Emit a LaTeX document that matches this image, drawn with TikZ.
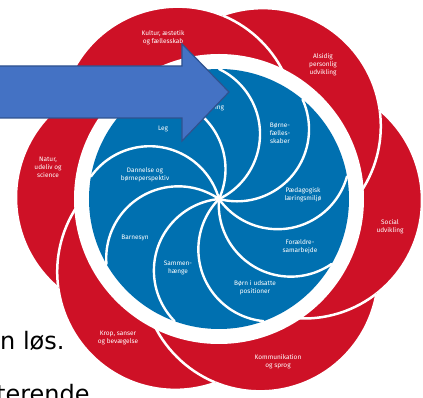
\documentclass[tikz,border=0pt]{standalone}
\usepackage{fontspec}
\setmainfont{DejaVu Sans}
\newfontfamily\tagfont{Fira Sans}
\definecolor{petal_red}{RGB}{206,17,38}
\definecolor{core_blue}{RGB}{0,112,176}
\definecolor{arrow_blue}{RGB}{68,114,196}
\definecolor{arrow_edge}{RGB}{47,82,143}
\tikzset{
	petal/.style={fill=petal_red,draw=white,line width=2.5pt},
	swirl/.style={draw=white,line width=2.4pt},
	tag/.style={text=white,align=center,inner sep=0pt,font=\tagfont\fontsize{6.5}{8}\selectfont},
	slidetext/.style={anchor=base west,inner sep=0pt,font=\fontsize{24}{24}\selectfont}
}

\begin{document}
\begin{tikzpicture}[x=1pt,y=1pt,line join=round,line cap=round]
		\useasboundingbox (-219,-199) rectangle (204,199);
		\begin{scope}
		\clip (-219,-199) rectangle (204,199);
		% red petals
		\foreach\a in {-1,59,...,299}
			\fill[petal_red] (\a:85) circle[radius=118];
		\foreach\a in {-1,59,...,299}
		{
			\begin{scope}
				\clip (0,0) -- (\a-30:400) -- (\a+30:400) -- cycle;
				\foreach\i in {-60,0,60}
					\filldraw[petal] (\a+\i:85) circle[radius=118];
			\end{scope}
		}
		% blue core
		\fill[white] (0,0) circle[radius=145];
		\fill[core_blue] (0,0) circle[radius=130];
		\foreach\b in {90,130,...,410}
			\draw[swirl] (0,0) arc[start angle=\b-154.5, end angle=\b-25.5, radius=72];
		\node[tag] (laering)   at (-5,91)    {Læring};
		\node[tag] (leg)       at (-56,70)   {Leg};
		\node[tag] (dannelse)  at (-74,24)   {Dannelse og\\børneperspektiv};
		\node[tag] (barnesyn)  at (-84,-39)  {Barnesyn};
		\node[tag] (sammen)    at (-41,-69)  {Sammen-\\hænge};
		\node[tag] (udsatte)   at (36,-89)   {Børn i udsatte\\positioner};
		\node[tag] (foraeldre) at (81,-48)   {Forældre-\\samarbejde};
		\node[tag] (miljoe)    at (84,4)     {Pædagogisk\\læringsmiljø};
		\node[tag] (faelles)   at (61,66)    {Børne-\\fælles-\\skaber};
		\node[tag] (kultur)    at (-56,161)  {Kultur, æstetik\\og fællesskab};
		\node[tag] (alsidig)   at (104,134)  {Alsidig\\personlig\\udvikling};
		\node[tag] (social)    at (171,-28)  {Social\\udvikling};
		\node[tag] (sprog)     at (59,-163)  {Kommunikation\\og sprog};
		\node[tag] (krop)      at (-101,-139){Krop, sanser\\og bevægelse};
		\node[tag] (natur)     at (-171,32)  {Natur,\\udeliv og\\science};
		% slide text
		\node[slidetext] (loes)    at (-219,-151) {n løs.};
		\node[slidetext] (terende) at (-223,-204) {terende};
		% arrow
		\filldraw[fill=arrow_blue,draw=arrow_edge,line width=1.2pt,line join=miter]
			(-225,133) -- (-37,133) -- (-37,155) -- (10,107) -- (-37,58) -- (-37,81) -- (-225,81) -- cycle;
		\end{scope}
\end{tikzpicture}
\end{document}
